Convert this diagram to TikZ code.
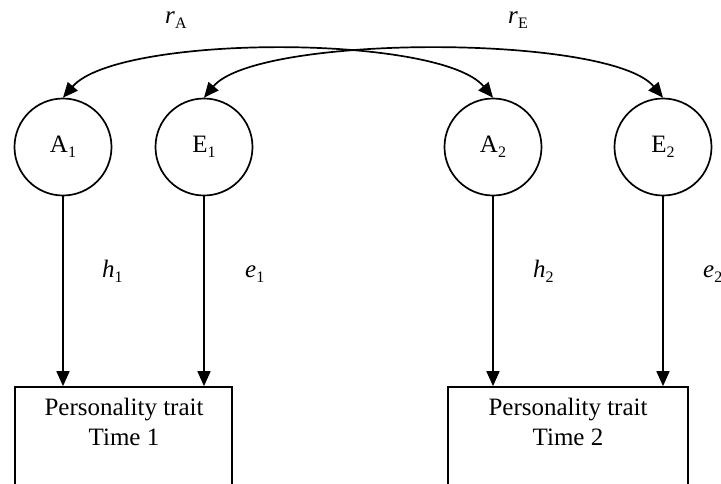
\documentclass[tikz,border=0pt]{standalone}
\usepackage{fontspec}
\setmainfont{Liberation Serif}
\usetikzlibrary{arrows.meta}
\newcommand{\sbs}[1]{\raisebox{-5pt}{\fontsize{16}{16}\selectfont #1}}
\tikzset{
  latent/.style={circle, draw, line width=1.7pt, minimum size=97pt, inner sep=0pt, font=\fontsize{25}{28}\selectfont},
  obsbox/.style={rectangle, draw, line width=1.7pt, inner sep=0pt},
  boxtext/.style={align=center, font=\fontsize{25}{30}\selectfont, inner sep=0pt},
  lbl/.style={anchor=base west, inner sep=0pt, font=\fontsize{25}{28}\selectfont},
  conn/.style={line width=1.7pt, -{Triangle[length=15pt,width=13pt]}},
  corr/.style={line width=1.7pt, {Triangle[length=15pt,width=13pt]}-{Triangle[length=15pt,width=13pt]}}
}
\begin{document}
\begin{tikzpicture}[x=1pt,y=-1pt]
\useasboundingbox (0,0) rectangle (721,483);
\clip (0,0) rectangle (721,483);
\fill[white] (0,0) rectangle (721,483);
% latent variables
\node[latent] (A1) at (63,147) {A\sbs{1}};
\node[latent] (E1) at (204,147) {E\sbs{1}};
\node[latent] (A2) at (493,147) {A\sbs{2}};
\node[latent] (E2) at (663,147) {E\sbs{2}};
% observed boxes (bottom edge cut off)
\node[obsbox, minimum width=217pt, minimum height=133pt] (T1) at (123.5,453.5) {};
\node[obsbox, minimum width=240pt, minimum height=133pt] (T2) at (568,453.5) {};
\node[boxtext] (T1t) at (124,422) {Personality trait\\Time 1};
\node[boxtext] (T2t) at (568,422) {Personality trait\\Time 2};
% paths
\draw[conn] (A1.south) -- (A1.south |- T1.north);
\draw[conn] (E1.south) -- (E1.south |- T1.north);
\draw[conn] (A2.south) -- (A2.south |- T2.north);
\draw[conn] (E2.south) -- (E2.south |- T2.north);
% path labels
\node[lbl] (h1) at (102,277) {\textit{h}\sbs{1}};
\node[lbl] (e1) at (245,277) {\textit{e}\sbs{1}};
\node[lbl] (h2) at (533,277) {\textit{h}\sbs{2}};
\node[lbl] (e2) at (703,277) {\textit{e}\sbs{2}};
% correlations
\draw[corr] (A1.north) .. controls (118,34) and (440,34) .. (A2.north);
\draw[corr] (E1.north) .. controls (257,34) and (610,34) .. (E2.north);
\node[lbl] (rA) at (165,23) {\textit{r}\sbs{A}};
\node[lbl] (rE) at (508,23) {\textit{r}\sbs{E}};
\end{tikzpicture}
\end{document}
